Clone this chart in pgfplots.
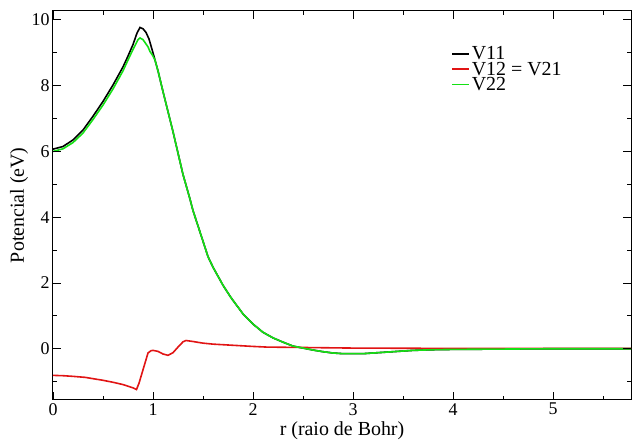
\documentclass[border=0pt]{standalone}
\usepackage{fontspec}
\setmainfont{Liberation Serif}
\usepackage{pgfplots}
\pgfplotsset{compat=1.18}
\definecolor{gred}{RGB}{225,20,20}
\definecolor{ggreen}{RGB}{20,225,20}
\begin{document}
\begin{tikzpicture}
\begin{axis}[
  scale only axis,
  width=578bp, height=389bp,
  xmin=0, xmax=5.78, ymin=-1.55, ymax=10.28,
  xtick={0,1,2,3,4,5}, minor xtick={0.5,1.5,2.5,3.5,4.5,5.5},
  ytick={0,2,4,6,8,10}, minor ytick={-1,1,3,5,7,9},
  major tick length=8bp, minor tick length=4bp,
  axis line style={line width=1bp},
  xtick style={draw=black, line width=0.9bp},
  ytick style={draw=black, line width=0.9bp},
  /pgf/number format/assume math mode=true,
  tick label style={font=\fontsize{18}{21}\selectfont},
  xlabel={r (raio de Bohr)},
  ylabel={Potencial (eV)},
  xlabel style={font=\fontsize{20}{24}\selectfont, at={(axis description cs:0.5,0)}, anchor=north, yshift=-18bp},
  ylabel style={font=\fontsize{20}{24}\selectfont, at={(axis description cs:0,0.5)}, anchor=center, yshift=34bp},
  legend cell align=left,
  legend style={draw=none, fill=none, inner sep=0pt, at={(axis cs:3.98,9.25)}, anchor=north west,
    font=\fontsize{20}{24}\selectfont, row sep=-3.5bp},
  unbounded coords=jump,
]
\addplot[black, line width=1.6bp] coordinates {
(0,6.07) (0.1,6.15) (0.2,6.35) (0.3,6.65) (0.4,7.07) (0.5,7.52) (0.6,8.02) (0.7,8.57)
(0.75,8.9) (0.8,9.25) (0.84,9.6) (0.87,9.77) (0.9,9.73) (0.93,9.62) (0.96,9.42) (1.0,9.0)
(1.02,8.78) (1.05,8.45) (1.1,7.82) (1.2,6.6) (1.3,5.3) (1.37,4.55) (1.4,4.2) (1.5,3.27)
(1.55,2.8) (1.6,2.48) (1.7,1.93) (1.77,1.6) (1.8,1.47) (1.9,1.06) (2.0,0.75) (2.1,0.5)
(2.2,0.33) (2.3,0.2) (2.4,0.08) (2.5,0.02) (2.6,-0.04) (2.7,-0.09) (2.8,-0.13) (2.9,-0.15)
(3.0,-0.15) (3.1,-0.15) (3.2,-0.13) (3.4,-0.09) (3.6,-0.05) (3.8,-0.03) (4.0,-0.02)
(4.5,-0.01) (5.0,0) (5.78,0)
};
\addlegendentry{V11}
\addplot[gred, line width=1.6bp] coordinates {
(0,-0.81) (0.1,-0.82) (0.2,-0.84) (0.32,-0.87) (0.4,-0.91) (0.5,-0.96) (0.6,-1.02)
(0.7,-1.09) (0.8,-1.19) (0.835,-1.24) (0.86,-1.05) (0.9,-0.64) (0.95,-0.13) (0.98,-0.06)
(1.0,-0.05) (1.05,-0.08) (1.1,-0.16) (1.15,-0.2) (1.2,-0.12) (1.25,0.05) (1.3,0.21)
(1.33,0.25) (1.4,0.22) (1.5,0.17) (1.6,0.14) (1.77,0.11) (2.0,0.07) (2.14,0.05)
(2.44,0.04) (3.0,0.02) (4.0,0.01) (5.0,0.01) (5.78,0.01)
};
\addlegendentry{V12 = V21}
\addplot[ggreen, line width=1.6bp] coordinates {
(0,6.0) (0.1,6.08) (0.2,6.27) (0.3,6.56) (0.4,6.97) (0.5,7.41) (0.6,7.9) (0.7,8.45)
(0.75,8.78) (0.8,9.1) (0.85,9.4) (0.87,9.45) (0.9,9.4) (0.95,9.18) (0.97,9.04) (1.0,8.9)
(1.02,8.78) (1.05,8.45) (1.1,7.82) (1.2,6.6) (1.3,5.3) (1.37,4.55) (1.4,4.2) (1.5,3.27)
(1.55,2.8) (1.6,2.48) (1.7,1.93) (1.77,1.6) (1.8,1.47) (1.9,1.06) (2.0,0.75) (2.1,0.5)
(2.2,0.33) (2.3,0.2) (2.4,0.08) (2.5,0.02) (2.6,-0.04) (2.7,-0.09) (2.8,-0.13) (2.9,-0.15)
(3.0,-0.15) (3.1,-0.15) (3.2,-0.13) (3.4,-0.09) (3.6,-0.05) (3.8,-0.03) (4.0,-0.02)
(4.5,-0.01) (5.0,0) (5.78,0)
};
\addlegendentry{V22}
% tick segments on the frame, in axis units
\addplot[black, line width=0.9bp, forget plot] coordinates {
(0,-1.55) (0,-1.43) (0,-1.31) (0,nan)
(1,-1.55) (1,-1.43) (1,-1.31) (1,nan)
(2,-1.55) (2,-1.43) (2,-1.31) (2,nan)
(3,-1.55) (3,-1.43) (3,-1.31) (3,nan)
(4,-1.55) (4,-1.43) (4,-1.31) (4,nan)
(5,-1.55) (5,-1.43) (5,-1.31) (5,nan)
(0.5,-1.55) (0.5,-1.49) (0.5,-1.43) (0.5,nan)
(1.5,-1.55) (1.5,-1.49) (1.5,-1.43) (1.5,nan)
(2.5,-1.55) (2.5,-1.49) (2.5,-1.43) (2.5,nan)
(3.5,-1.55) (3.5,-1.49) (3.5,-1.43) (3.5,nan)
(4.5,-1.55) (4.5,-1.49) (4.5,-1.43) (4.5,nan)
(5.5,-1.55) (5.5,-1.49) (5.5,-1.43)
};
\addplot[black, line width=0.9bp, forget plot] coordinates {
(0,10.28) (0,10.16) (0,10.04) (0,nan)
(1,10.28) (1,10.16) (1,10.04) (1,nan)
(2,10.28) (2,10.16) (2,10.04) (2,nan)
(3,10.28) (3,10.16) (3,10.04) (3,nan)
(4,10.28) (4,10.16) (4,10.04) (4,nan)
(5,10.28) (5,10.16) (5,10.04) (5,nan)
(0.5,10.28) (0.5,10.22) (0.5,10.16) (0.5,nan)
(1.5,10.28) (1.5,10.22) (1.5,10.16) (1.5,nan)
(2.5,10.28) (2.5,10.22) (2.5,10.16) (2.5,nan)
(3.5,10.28) (3.5,10.22) (3.5,10.16) (3.5,nan)
(4.5,10.28) (4.5,10.22) (4.5,10.16) (4.5,nan)
(5.5,10.28) (5.5,10.22) (5.5,10.16)
};
\addplot[black, line width=0.9bp, forget plot] coordinates {
(0,0) (0.04,0) (0.08,0) (nan,0)
(0,2) (0.04,2) (0.08,2) (nan,2)
(0,4) (0.04,4) (0.08,4) (nan,4)
(0,6) (0.04,6) (0.08,6) (nan,6)
(0,8) (0.04,8) (0.08,8) (nan,8)
(0,10) (0.04,10) (0.08,10) (nan,10)
(0,-1) (0.02,-1) (0.04,-1) (nan,-1)
(0,1) (0.02,1) (0.04,1) (nan,1)
(0,3) (0.02,3) (0.04,3) (nan,3)
(0,5) (0.02,5) (0.04,5) (nan,5)
(0,7) (0.02,7) (0.04,7) (nan,7)
(0,9) (0.02,9) (0.04,9)
};
\addplot[black, line width=0.9bp, forget plot] coordinates {
(5.78,0) (5.74,0) (5.70,0) (nan,0)
(5.78,2) (5.74,2) (5.70,2) (nan,2)
(5.78,4) (5.74,4) (5.70,4) (nan,4)
(5.78,6) (5.74,6) (5.70,6) (nan,6)
(5.78,8) (5.74,8) (5.70,8) (nan,8)
(5.78,10) (5.74,10) (5.70,10) (nan,10)
(5.78,-1) (5.76,-1) (5.74,-1) (nan,-1)
(5.78,1) (5.76,1) (5.74,1) (nan,1)
(5.78,3) (5.76,3) (5.74,3) (nan,3)
(5.78,5) (5.76,5) (5.74,5) (nan,5)
(5.78,7) (5.76,7) (5.74,7) (nan,7)
(5.78,9) (5.76,9) (5.74,9)
};
\end{axis}
\path (current axis.south west) ++(-53bp,-41bp) rectangle (current axis.north east);
\draw[draw=none] (current axis.north east) rectangle ++(1bp,10.7bp);
\end{tikzpicture}
\end{document}
